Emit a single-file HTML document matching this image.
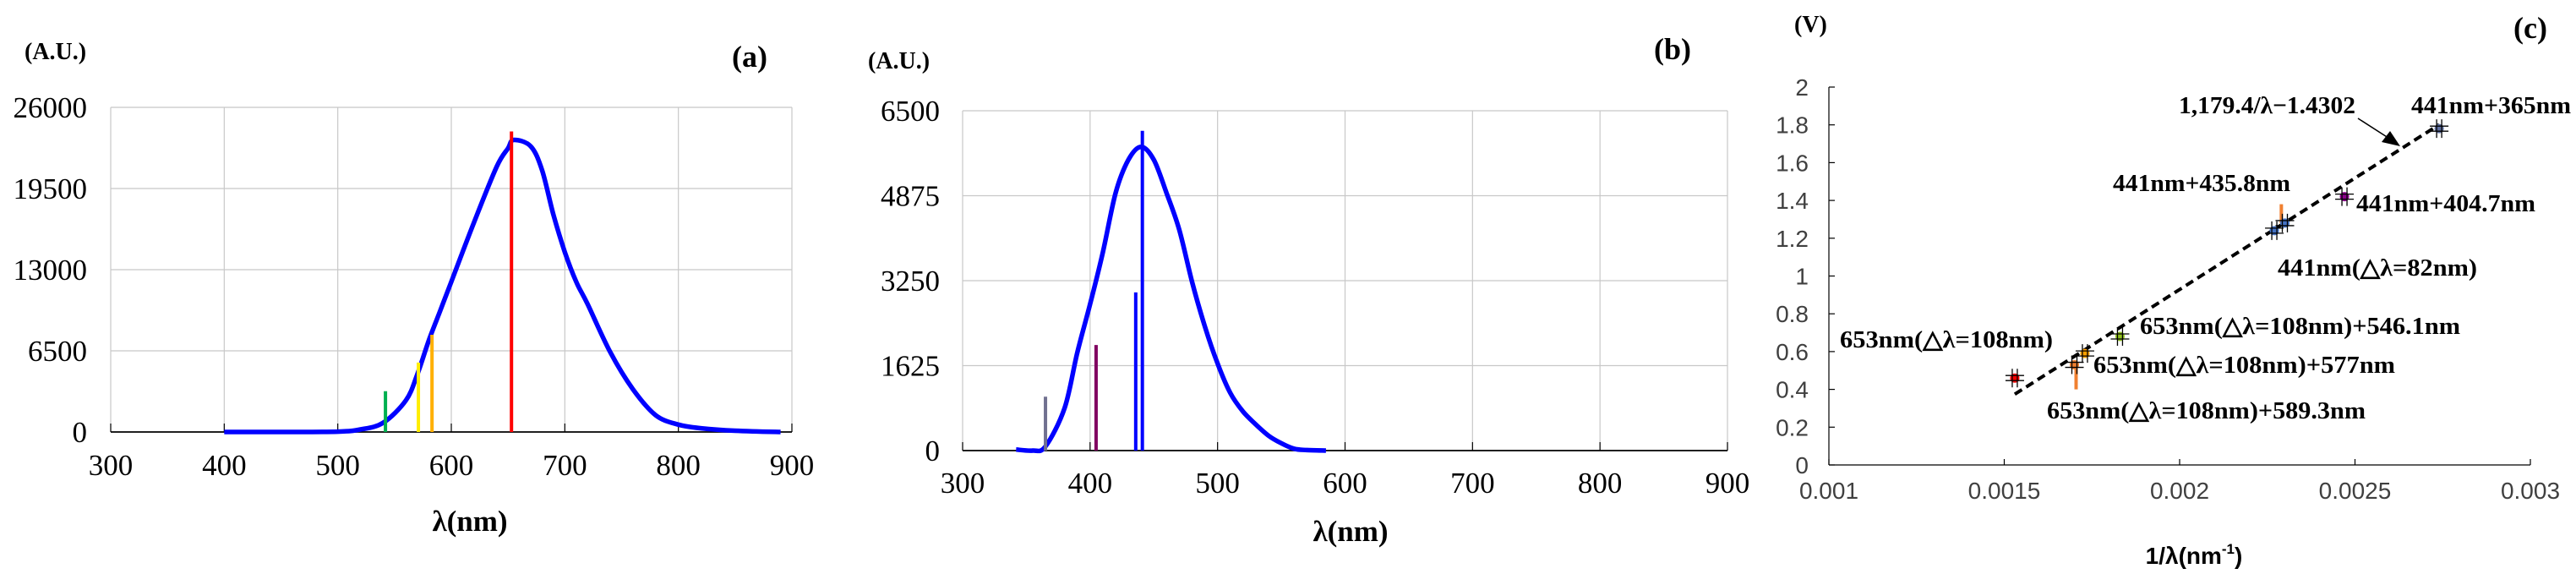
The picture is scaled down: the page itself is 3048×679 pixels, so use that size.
<!DOCTYPE html>
<html><head><meta charset="utf-8"><style>
html,body{margin:0;padding:0;background:#fff;width:3048px;height:679px;overflow:hidden}
svg{position:absolute;left:0;top:0}
.ser{font-family:"Liberation Serif",serif}
.san{font-family:"Liberation Sans",sans-serif}
</style></head><body>
<svg id="chart" width="3048" height="679" viewBox="0 0 3048 679"></svg>
<script>
// Panel (a) data
const aLambda=[400,450,500,520,540,560,570,580,590,600,620,640,650,655,670,680,690,700,710,720,740,760,780,800,820,850,890];
const aValue=[0,0,30,200,740,2530,4600,7280,9660,12030,16790,21250,22730,23390,22880,20950,17380,14410,12030,10250,6390,3420,1340,590,300,100,0];
const aLinesX=[542,571,583,653];
const aLinesY=[3270,5560,7790,24070];
const aLinesC=["#00b050","#ffee00","#ffb000","#ff0000"];
const aYTicks=[0,6500,13000,19500,26000];
const xTicks=[300,400,500,600,700,800,900];
// Panel (b) data
const bLambda=[342,355,365,380,390,400,410,420,430,440,450,460,470,480,490,500,510,520,530,540,550,560,570,585];
const bValue=[20,0,80,815,1880,2800,3790,4925,5560,5810,5560,4925,4220,3225,2375,1665,1100,745,500,285,140,35,10,0];
const bLinesX=[365,404.7,435.8,441];
const bLinesY=[1030,2020,3025,6115];
const bLinesC=["#707090","#800060","#0000ff","#0000ff"];
const bYTicks=[0,1625,3250,4875,6500];
// Panel (c) data
const cX=[0.00153,0.00170,0.00173,0.00183,0.00227,0.00230,0.00247,0.00274];
const cY=[0.46,0.53,0.59,0.68,1.24,1.28,1.42,1.78];
const cColors=["#ff0000","#f08030","#ffa000","#90c020","#4472c4","#4472c4","#8b008b","#6070a0"];
const cSlope=1179.4, cIntercept=-1.4302;
const cFitRange=[0.00153,0.00274];
const cYTicks=[0,0.2,0.4,0.6,0.8,1,1.2,1.4,1.6,1.8,2];
const cXTicks=[0.001,0.0015,0.002,0.0025,0.003];
const cXTickLabels=["0.001","0.0015","0.002","0.0025","0.003"];

const NS="http://www.w3.org/2000/svg";
const svg=document.getElementById('chart');
function mk(tag,attrs,parent,text){const e=document.createElementNS(NS,tag);for(const k in attrs)e.setAttribute(k,attrs[k]);if(text!==undefined)e.textContent=text;(parent||svg).appendChild(e);return e;}
function smoothPath(P){
  let d='M'+P[0][0].toFixed(1)+' '+P[0][1].toFixed(1);
  for(let i=0;i<P.length-1;i++){
    const p0=P[i-1]||P[i],p1=P[i],p2=P[i+1],p3=P[i+2]||P[i+1];
    const c1=[p1[0]+(p2[0]-p0[0])/6,p1[1]+(p2[1]-p0[1])/6];
    const c2=[p2[0]-(p3[0]-p1[0])/6,p2[1]-(p3[1]-p1[1])/6];
    d+=` C${c1[0].toFixed(1)} ${c1[1].toFixed(1)} ${c2[0].toFixed(1)} ${c2[1].toFixed(1)} ${p2[0].toFixed(1)} ${p2[1].toFixed(1)}`;
  }
  return d;
}

function spectrum(cfg){
  const g=mk('g',{});
  
  
  const sx=v=>cfg.L+(v-300)/600*(cfg.R-cfg.L);
  const sy=v=>cfg.B-v/cfg.ymax*(cfg.B-cfg.T);
  cfg.yTicks.forEach(t=>{
    const l=mk('line',{x1:cfg.L,x2:cfg.R,y1:sy(t),y2:sy(t),stroke:t===0?'#000':'#c8c8c8','stroke-width':t===0?1.5:1.2},g);
    
    const tx=mk('text',{x:cfg.yLabX,y:sy(t)+12,'text-anchor':'end','font-size':35,class:'ser'},g,String(t));
    
  });
  xTicks.forEach(t=>{
    const l=mk('line',{x1:sx(t),x2:sx(t),y1:cfg.T,y2:cfg.B,stroke:'#c8c8c8','stroke-width':1.2},g);
    
    const tk=mk('line',{x1:sx(t),x2:sx(t),y1:cfg.B-10,y2:cfg.B,stroke:'#000','stroke-width':1.2},g);
    
    const tx=mk('text',{x:sx(t),y:cfg.xLabY,'text-anchor':'middle','font-size':35,class:'ser'},g,String(t));
    
  });
  const base=mk('line',{x1:cfg.L,x2:cfg.R,y1:cfg.B,y2:cfg.B,stroke:'#000','stroke-width':1.5},g);
  
  const pts=cfg.xs.map((v,i)=>[sx(v),sy(cfg.ys[i])]);
  const p=mk('path',{d:smoothPath(pts),fill:'none',stroke:'#0000ff','stroke-width':5.5,'stroke-linejoin':'round'},g);
  
  cfg.lx.forEach((v,i)=>{
    const l=mk('line',{x1:sx(v),x2:sx(v),y1:cfg.B,y2:sy(cfg.ly[i]),stroke:cfg.lc[i],'stroke-width':4},g);
    
  });
  const t1=mk('text',{x:cfg.titleX,y:cfg.titleY,'text-anchor':'middle','font-size':35,'font-weight':'bold',class:'ser'},g,'λ(nm)');
  
  const t2=mk('text',{x:cfg.auX,y:cfg.auY,'font-size':28,'font-weight':'bold',class:'ser'},g,'(A.U.)');
  
  const t3=mk('text',{x:cfg.pX,y:cfg.pY,'font-size':36,'font-weight':'bold',class:'ser'},g,cfg.panel);
  
}
spectrum({name:'panel-a',L:131,R:937,T:127,B:511,ymax:26000,yTicks:aYTicks,yLabX:103,xLabY:562,xs:aLambda,ys:aValue,lx:aLinesX,ly:aLinesY,lc:aLinesC,titleX:556,titleY:628,auX:29,auY:70,pX:866,pY:79,panel:'(a)'});
spectrum({name:'panel-b',L:1139,R:2044,T:131,B:533,ymax:6500,yTicks:bYTicks,yLabX:1112,xLabY:583,xs:bLambda,ys:bValue,lx:bLinesX,ly:bLinesY,lc:bLinesC,titleX:1598,titleY:640,auX:1027,auY:81,pX:1957,pY:70,panel:'(b)'});

// Panel c
(function(){
  const g=mk('g',{});
  
  
  const L=2164,R=2994,T=103,B=550;
  const sx=v=>L+(v-0.001)/0.002*(R-L);
  const sy=v=>B-v/2*(B-T);
  const ax=mk('line',{x1:L,x2:L,y1:T,y2:B,stroke:'#000','stroke-width':1.2},g);
  
  const bx=mk('line',{x1:L,x2:R,y1:B,y2:B,stroke:'#000','stroke-width':1.2},g);
  
  cYTicks.forEach(t=>{
    const tk=mk('line',{x1:L,x2:L+7,y1:sy(t),y2:sy(t),stroke:'#000','stroke-width':1.2},g);
    
    const tx=mk('text',{x:2140,y:sy(t)+10,'text-anchor':'end','font-size':28,fill:'#404040',class:'san'},g,String(t));
    
  });
  cXTicks.forEach((t,i)=>{
    const tk=mk('line',{x1:sx(t),x2:sx(t),y1:B-7,y2:B,stroke:'#000','stroke-width':1.2},g);
    
    const tx=mk('text',{x:sx(t),y:590,'text-anchor':'middle','font-size':28,fill:'#404040',class:'san'},g,cXTickLabels[i]);
    
  });
  const ob1=mk('line',{x1:sx(0.0017)+2,x2:sx(0.0017)+2,y1:sy(0.40),y2:sy(0.53),stroke:'#f08030','stroke-width':4},g);
  
  const ob2=mk('line',{x1:sx(0.00229),x2:sx(0.00229),y1:sy(1.28),y2:sy(1.38),stroke:'#f08030','stroke-width':4},g);
  
  const fl=mk('line',{x1:sx(cFitRange[0]),y1:sy(cSlope*cFitRange[0]+cIntercept),x2:sx(cFitRange[1]),y2:sy(cSlope*cFitRange[1]+cIntercept),stroke:'#000','stroke-width':4,'stroke-dasharray':'10 6'},g);
  
  cX.forEach((v,i)=>{
    const x=sx(v),y=sy(cY[i]);
    const pt=mk('circle',{cx:x,cy:y,r:5.5,fill:cColors[i]},g);
    
    const eb=mk('path',{d:`M${x-3} ${y-11}V${y+11}M${x+3} ${y-11}V${y+11}M${x-11} ${y-3}H${x+11}M${x-11} ${y+3}H${x+11}`,stroke:'#000','stroke-width':1.3,fill:'none'},g);
    
  });
  const ar=mk('line',{x1:2790,y1:140,x2:2832,y2:167,stroke:'#000','stroke-width':1.5},g);
  
  const ah=mk('polygon',{points:'2840,173 2818,168 2828,155',fill:'#000'},g);
  
  const labels=[
    ['1,179.4/λ−1.4302',2578,134,209,'fit-equation'],
    ['441nm+365nm',2853,134,189,'point-label'],
    ['441nm+435.8nm',2500,226,210,'point-label'],
    ['441nm+404.7nm',2788,250,212,'point-label'],
    ['441nm(△λ=82nm)',2695,326,236,'point-label'],
    ['653nm(△λ=108nm)+546.1nm',2532,395,379,'point-label'],
    ['653nm(△λ=108nm)',2177,411,252,'point-label'],
    ['653nm(△λ=108nm)+577nm',2477,441,357,'point-label'],
    ['653nm(△λ=108nm)+589.3nm',2422,495,377,'point-label']
  ];
  labels.forEach(l=>{
    const t=mk('text',{x:l[1],y:l[2],'font-size':29,'font-weight':'bold',class:'ser',textLength:l[3],lengthAdjust:'spacingAndGlyphs'},g,l[0]);
    
  });
  const xt=mk('text',{x:2596,y:667,'text-anchor':'middle','font-size':28,'font-weight':'bold',class:'san'},g);
  
  mk('tspan',{},xt,'1/λ(nm');mk('tspan',{'font-size':17,dy:-12},xt,'-1');mk('tspan',{dy:12},xt,')');
  const v=mk('text',{x:2123,y:38,'font-size':28,'font-weight':'bold',class:'ser'},g,'(V)');
  
  const pc=mk('text',{x:2974,y:45,'font-size':36,'font-weight':'bold',class:'ser'},g,'(c)');
  
})();
</script>
</body></html>
